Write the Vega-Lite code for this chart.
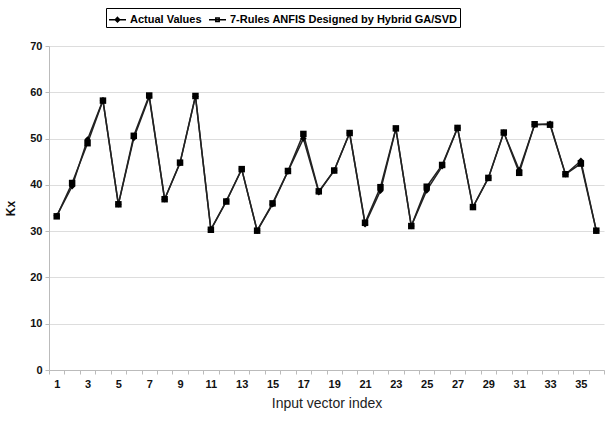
{
  "$schema": "https://vega.github.io/schema/vega-lite/v6.json",
  "autosize": "none",
  "width": 555,
  "height": 324,
  "padding": {"left": 49, "top": 46, "right": 1, "bottom": 53},
  "background": "white",
  "config": {"font": "Liberation Sans", "view": {"stroke": null}},
  "data": {"values": [
    {"i":1,"Actual Values":33.3,"7-Rules ANFIS Designed by Hybrid GA/SVD":33.2},
    {"i":2,"Actual Values":39.7,"7-Rules ANFIS Designed by Hybrid GA/SVD":40.4},
    {"i":3,"Actual Values":49.8,"7-Rules ANFIS Designed by Hybrid GA/SVD":49.0},
    {"i":4,"Actual Values":58.3,"7-Rules ANFIS Designed by Hybrid GA/SVD":58.2},
    {"i":5,"Actual Values":35.8,"7-Rules ANFIS Designed by Hybrid GA/SVD":35.8},
    {"i":6,"Actual Values":50.1,"7-Rules ANFIS Designed by Hybrid GA/SVD":50.6},
    {"i":7,"Actual Values":59.0,"7-Rules ANFIS Designed by Hybrid GA/SVD":59.3},
    {"i":8,"Actual Values":36.9,"7-Rules ANFIS Designed by Hybrid GA/SVD":36.9},
    {"i":9,"Actual Values":44.7,"7-Rules ANFIS Designed by Hybrid GA/SVD":44.8},
    {"i":10,"Actual Values":59.1,"7-Rules ANFIS Designed by Hybrid GA/SVD":59.2},
    {"i":11,"Actual Values":30.4,"7-Rules ANFIS Designed by Hybrid GA/SVD":30.3},
    {"i":12,"Actual Values":36.5,"7-Rules ANFIS Designed by Hybrid GA/SVD":36.4},
    {"i":13,"Actual Values":43.4,"7-Rules ANFIS Designed by Hybrid GA/SVD":43.4},
    {"i":14,"Actual Values":30.1,"7-Rules ANFIS Designed by Hybrid GA/SVD":30.1},
    {"i":15,"Actual Values":35.8,"7-Rules ANFIS Designed by Hybrid GA/SVD":36.0},
    {"i":16,"Actual Values":42.9,"7-Rules ANFIS Designed by Hybrid GA/SVD":43.0},
    {"i":17,"Actual Values":50.0,"7-Rules ANFIS Designed by Hybrid GA/SVD":51.0},
    {"i":18,"Actual Values":38.4,"7-Rules ANFIS Designed by Hybrid GA/SVD":38.6},
    {"i":19,"Actual Values":43.1,"7-Rules ANFIS Designed by Hybrid GA/SVD":43.1},
    {"i":20,"Actual Values":51.2,"7-Rules ANFIS Designed by Hybrid GA/SVD":51.2},
    {"i":21,"Actual Values":31.5,"7-Rules ANFIS Designed by Hybrid GA/SVD":31.8},
    {"i":22,"Actual Values":38.7,"7-Rules ANFIS Designed by Hybrid GA/SVD":39.5},
    {"i":23,"Actual Values":52.1,"7-Rules ANFIS Designed by Hybrid GA/SVD":52.2},
    {"i":24,"Actual Values":31.1,"7-Rules ANFIS Designed by Hybrid GA/SVD":31.1},
    {"i":25,"Actual Values":38.8,"7-Rules ANFIS Designed by Hybrid GA/SVD":39.6},
    {"i":26,"Actual Values":44.0,"7-Rules ANFIS Designed by Hybrid GA/SVD":44.3},
    {"i":27,"Actual Values":52.3,"7-Rules ANFIS Designed by Hybrid GA/SVD":52.3},
    {"i":28,"Actual Values":35.2,"7-Rules ANFIS Designed by Hybrid GA/SVD":35.2},
    {"i":29,"Actual Values":41.5,"7-Rules ANFIS Designed by Hybrid GA/SVD":41.5},
    {"i":30,"Actual Values":51.3,"7-Rules ANFIS Designed by Hybrid GA/SVD":51.3},
    {"i":31,"Actual Values":43.2,"7-Rules ANFIS Designed by Hybrid GA/SVD":42.6},
    {"i":32,"Actual Values":53.0,"7-Rules ANFIS Designed by Hybrid GA/SVD":53.1},
    {"i":33,"Actual Values":53.2,"7-Rules ANFIS Designed by Hybrid GA/SVD":53.0},
    {"i":34,"Actual Values":42.3,"7-Rules ANFIS Designed by Hybrid GA/SVD":42.3},
    {"i":35,"Actual Values":45.2,"7-Rules ANFIS Designed by Hybrid GA/SVD":44.6},
    {"i":36,"Actual Values":30.1,"7-Rules ANFIS Designed by Hybrid GA/SVD":30.1}
  ]},
  "transform": [
    {"fold": ["Actual Values", "7-Rules ANFIS Designed by Hybrid GA/SVD"], "as": ["series", "v"]}
  ],
  "encoding": {
    "x": {
      "field": "i", "type": "ordinal",
      "scale": {"type": "band", "paddingInner": 0, "paddingOuter": 0},
      "axis": {
        "title": "Input vector index",
        "labelAngle": 0,
        "labelExpr": "datum.value % 2 == 1 ? datum.label : ''",
        "tickBand": "extent",
        "grid": false,
        "domainColor": "#bbbbbb",
        "tickColor": "#bbbbbb",
        "tickSize": 4,
        "labelFontWeight": "bold",
        "labelFontSize": 11,
        "labelColor": "#111111",
        "labelPadding": 4,
        "titleFontWeight": "normal",
        "titleFontSize": 14,
        "titleColor": "#222222",
        "titlePadding": 7
      }
    },
    "y": {
      "field": "v", "type": "quantitative",
      "scale": {"domain": [0, 70], "nice": false},
      "axis": {
        "title": "Kx",
        "values": [0, 10, 20, 30, 40, 50, 60, 70],
        "gridColor": "#dddddd",
        "domainColor": "#bbbbbb",
        "tickColor": "#bbbbbb",
        "tickSize": 4,
        "labelFontWeight": "bold",
        "labelFontSize": 11,
        "labelColor": "#111111",
        "labelPadding": 3,
        "titleFontWeight": "bold",
        "titleFontSize": 12,
        "titleColor": "#111111",
        "titlePadding": 12
      }
    }
  },
  "layer": [
    {
      "mark": {"type": "line", "color": "#222222", "strokeWidth": 1.5},
      "encoding": {"detail": {"field": "series"}}
    },
    {
      "mark": {"type": "point", "filled": true, "color": "#000000", "opacity": 1, "size": 42},
      "encoding": {
        "shape": {
          "field": "series",
          "scale": {"domain": ["Actual Values", "7-Rules ANFIS Designed by Hybrid GA/SVD"], "range": ["diamond", "square"]},
          "legend": null
        }
      }
    },
    {
      "transform": [{"filter": "false"}],
      "mark": {"type": "point", "filled": false, "color": "#000000", "strokeWidth": 1.5, "opacity": 1},
      "encoding": {
        "shape": {
          "field": "series",
          "scale": {
            "domain": ["Actual Values", "7-Rules ANFIS Designed by Hybrid GA/SVD"],
            "range": [
              "M-1,0L1,0M0,-0.26L0.26,0L0,0.26L-0.26,0Z",
              "M-1,0L1,0M-0.2,-0.2L0.2,-0.2L0.2,0.2L-0.2,0.2Z"
            ]
          },
          "legend": {
            "title": null,
            "orient": "none",
            "legendX": 57,
            "legendY": -38,
            "direction": "horizontal",
            "columns": 2,
            "strokeColor": "#000000",
            "padding": 2,
            "symbolSize": 289,
            "symbolStrokeColor": "#000000",
            "symbolStrokeWidth": 1.5,
            "symbolFillColor": "#000000",
            "labelFontSize": 11,
            "labelFontWeight": "bold",
            "labelColor": "#000000",
            "labelLimit": 400,
            "labelOffset": 3,
            "columnPadding": 4
          }
        }
      }
    }
  ],
  "resolve": {"scale": {"shape": "independent"}}
}
